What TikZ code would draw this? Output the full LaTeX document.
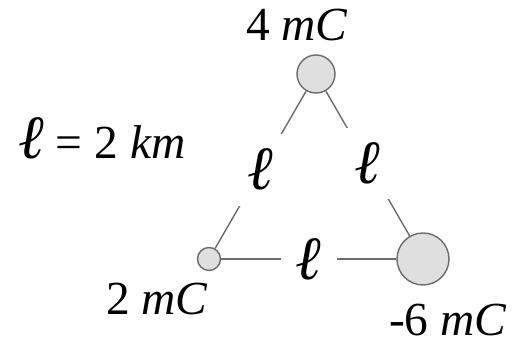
\documentclass[tikz,border=0pt]{standalone}
\usepackage{fontspec}
\setmainfont{Liberation Serif}
\usepackage{tikz}
\usetikzlibrary{positioning}

\newcommand{\bigtext}{\fontsize{27}{30}\selectfont}
\newcommand{\elltext}{\fontsize{35}{38}\selectfont\itshape}

\begin{document}
\begin{tikzpicture}[
  charge/.style={circle, draw=gray!85!black, fill=gray!25, line width=0.8pt,
    inner sep=0pt},
  qlabel/.style={font=\bigtext, inner sep=0pt},
  side/.style={fill=white, inner sep=0.3cm, font=\elltext},
  rod/.style={draw=gray!85!black, line width=0.8pt}
]
  \useasboundingbox (0,0) rectangle (10.32,6.88);

  \node[charge, minimum size=0.76cm] (qtop) at (6.32,5.40) {};
  \node[charge, minimum size=0.46cm] (qleft) at (4.18,1.70) {};
  \node[charge, minimum size=1.04cm] (qright) at (8.46,1.70) {};

  \node[qlabel] (ltop) at (5.94,6.38) {4 \textit{mC}};
  \node[qlabel] (lleft) at (3.14,0.90) {2 \textit{mC}};
  \node[qlabel] (lright) at (8.96,0.48) {-6 \textit{mC}};
  \node[qlabel] (given) at (2.04,4.12) {{\elltext ℓ} = 2 \textit{km}};

  \path[rod] (qtop) -- node[side]{ℓ} (qleft);
  \path[rod] (qtop) -- node[side]{ℓ} (qright);
  \path[rod] (qleft) -- node[side]{ℓ} (qright);
\end{tikzpicture}
\end{document}
